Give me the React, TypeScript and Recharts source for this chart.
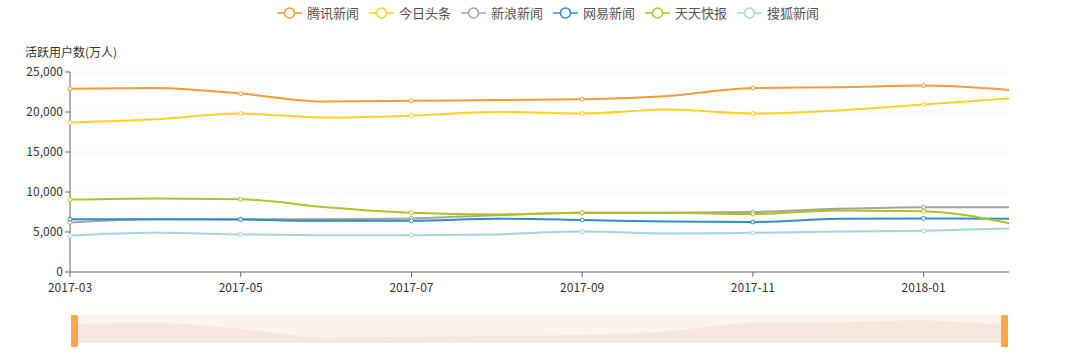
import React from "react";
import {
  LineChart,
  Line,
  XAxis,
  YAxis,
  CartesianGrid,
  AreaChart,
  Area,
} from "recharts";

const months = [
  "2017-03", "2017-04", "2017-05", "2017-06", "2017-07", "2017-08",
  "2017-09", "2017-10", "2017-11", "2017-12", "2018-01", "2018-02",
];

const tencent = [22900, 23000, 22300, 21300, 21400, 21500, 21600, 22000, 23000, 23100, 23300, 22750];
const toutiao = [18700, 19100, 19800, 19300, 19550, 20000, 19800, 20300, 19800, 20200, 20950, 21700];
const sina = [6200, 6600, 6600, 6600, 6700, 7100, 7400, 7400, 7500, 7900, 8100, 8100];
const netease = [6600, 6600, 6550, 6400, 6400, 6650, 6500, 6300, 6250, 6650, 6700, 6650];
const tiantian = [9050, 9200, 9100, 8100, 7400, 7200, 7400, 7400, 7250, 7700, 7600, 6100];
const sohu = [4550, 4900, 4700, 4600, 4600, 4700, 5050, 4800, 4900, 5050, 5150, 5450];

const yTicks = [0, 5000, 10000, 15000, 20000, 25000];

const series = [
  { key: "腾讯新闻", values: tencent, color: "#f29b38" },
  { key: "今日头条", values: toutiao, color: "#fcd02a" },
  { key: "新浪新闻", values: sina, color: "#a3a3a3" },
  { key: "网易新闻", values: netease, color: "#2f8cc4" },
  { key: "天天快报", values: tiantian, color: "#a4c823" },
  { key: "搜狐新闻", values: sohu, color: "#a6d3e4" },
];

const data = months.map((m, i) => {
  const row: { [k: string]: string | number } = { month: m };
  series.forEach((s) => {
    row[s.key] = s.values[i];
  });
  return row;
});

const FONT = '"Noto Sans CJK SC", "Noto Sans", sans-serif';

function makeDot(color: string) {
  return (props: any) => {
    const { cx, cy, index } = props;
    if (index % 2 !== 0) return <g key={`d-${index}`} />;
    return (
      <circle
        key={`d-${index}`}
        cx={cx}
        cy={cy}
        r={2}
        fill="#fff"
        stroke={color}
        strokeWidth={1}
      />
    );
  };
}

function LegendBar() {
  return (
    <div
      style={{
        position: "absolute",
        left: 277,
        top: 4,
        display: "flex",
        alignItems: "center",
        fontFamily: FONT,
        fontSize: 13,
        color: "#555",
        lineHeight: "18px",
        whiteSpace: "nowrap",
      }}
    >
      {series.map((s) => (
        <div
          key={s.key}
          style={{ display: "flex", alignItems: "center", marginRight: 10 }}
        >
          <svg width={25} height={14} style={{ marginRight: 5 }}>
            <line x1={0} y1={7} x2={25} y2={7} stroke={s.color} strokeWidth={1.5} />
            <circle cx={12.5} cy={7} r={5} fill="#fff" stroke={s.color} strokeWidth={1.5} />
          </svg>
          <span>{s.key}</span>
        </div>
      ))}
    </div>
  );
}

export default function App() {
  return (
    <div
      style={{
        position: "absolute",
        left: 0,
        top: 0,
        width: 1080,
        height: 353,
        background: "#fff",
        fontFamily: FONT,
      }}
    >
      <LegendBar />
      <div
        style={{
          position: "absolute",
          left: 25,
          top: 43,
          fontSize: 12,
          color: "#333",
          lineHeight: "18px",
        }}
      >
        活跃用户数(万人)
      </div>
      <div style={{ position: "absolute", left: 0, top: 0 }}>
        <LineChart
          width={1080}
          height={305}
          data={data}
          margin={{ top: 72, right: 71, left: 10, bottom: 0 }}
        >
          <CartesianGrid vertical={false} stroke="#f2f2f2" />
          <XAxis
            dataKey="month"
            interval={1}
            axisLine={{ stroke: "#666" }}
            tickLine={{ stroke: "#666" }}
            tickSize={5}
            tick={{ fill: "#333", fontSize: 12, dy: 4 }}
            height={33}
          />
          <YAxis
            domain={[0, 25000]}
            ticks={yTicks}
            width={60}
            axisLine={{ stroke: "#666" }}
            tickLine={{ stroke: "#666" }}
            tickSize={5}
            tick={{ fill: "#333", fontSize: 12 }}
            tickFormatter={(v: number) => v.toLocaleString("en-US")}
          />
          {series.map((s) => (
            <Line
              key={s.key}
              type="monotone"
              dataKey={s.key}
              stroke={s.color}
              strokeWidth={2}
              dot={makeDot(s.color)}
              activeDot={false}
              isAnimationActive={false}
            />
          ))}
        </LineChart>
      </div>
      {/* data zoom slider */}
      <div
        style={{
          position: "absolute",
          left: 71,
          top: 315,
          width: 934,
          height: 28,
          background: "#fcf3ec",
        }}
      >
        <AreaChart
          width={934}
          height={28}
          data={data}
          margin={{ top: 0, right: 0, left: 0, bottom: 0 }}
        >
          <YAxis hide domain={[20650, 23950]} />
          <XAxis hide dataKey="month" />
          <Area
            type="monotone"
            dataKey="腾讯新闻"
            stroke="none"
            fill="#f1e3da"
            fillOpacity={0.8}
            isAnimationActive={false}
          />
        </AreaChart>
      </div>
      <div
        style={{
          position: "absolute",
          left: 71,
          top: 315,
          width: 7,
          height: 32,
          background: "#f8a84a",
          borderRadius: 1,
        }}
      />
      <div
        style={{
          position: "absolute",
          left: 1001,
          top: 315,
          width: 7,
          height: 32,
          background: "#f8a84a",
          borderRadius: 1,
        }}
      />
    </div>
  );
}
